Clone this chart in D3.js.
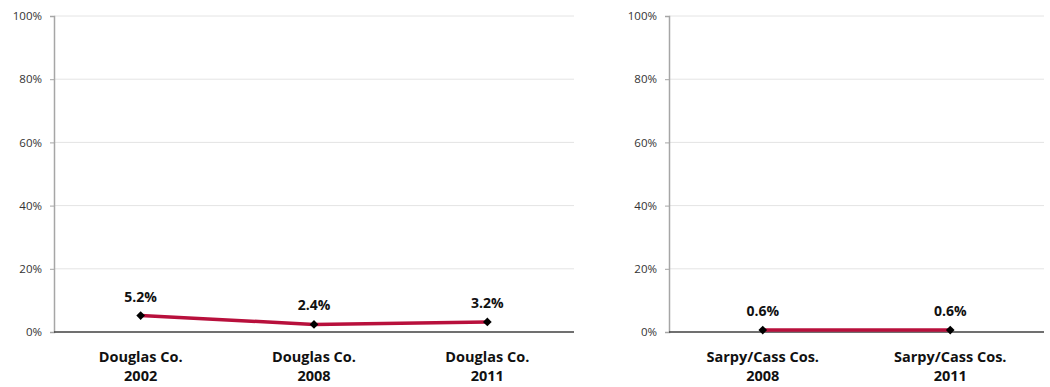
<!DOCTYPE html>
<html>
<head>
<meta charset="utf-8">
<script src="https://cdn.jsdelivr.net/npm/d3@7"></script>
<style>
  body { margin: 0; background: #fff; }
  text { font-family: "Open Sans", "Noto Sans", sans-serif; }
</style>
</head>
<body>
<div class="chart"></div>
<script>
// data
var douglasCats = [["Douglas Co.", "2002"], ["Douglas Co.", "2008"], ["Douglas Co.", "2011"]];
var douglasVals = [5.2, 2.4, 3.2];
var sarpyCats = [["Sarpy/Cass Cos.", "2008"], ["Sarpy/Cass Cos.", "2011"]];
var sarpyVals = [0.6, 0.6];
var yTicks = [0, 20, 40, 60, 80, 100];

var svgWidth = 1050;
var svgHeight = 387;

var svg = d3.select(".chart")
    .append("svg")
    .attr("width", svgWidth)
    .attr("height", svgHeight);

var yScale = d3.scaleLinear().domain([0, 100]).range([332, 16]);

function drawPanel(cats, vals, x0, x1) {
    var g = svg.append("g");
    var xScale = d3.scaleBand()
        .domain(cats.map(function(d, i) { return i; }))
        .range([x0, x1]);
    var cx = function(i) { return xScale(i) + xScale.bandwidth() / 2; };

    // gridlines
    g.selectAll(".grid")
        .data(yTicks.filter(function(t) { return t > 0; }))
        .enter()
        .append("line")
        .attr("x1", x0).attr("x2", x1)
        .attr("y1", function(d) { return yScale(d); })
        .attr("y2", function(d) { return yScale(d); })
        .attr("stroke", "#e4e4e4")
        .attr("stroke-width", 1);

    // y axis
    var leftAxis = d3.axisLeft(yScale)
        .tickValues(yTicks)
        .tickSize(4)
        .tickPadding(8)
        .tickFormat(function(d) { return d + "%"; });
    var ya = g.append("g")
        .attr("transform", "translate(" + x0 + ",0)")
        .call(leftAxis);
    ya.select(".domain").attr("stroke", "#a6a6a6").attr("stroke-width", 1.5);
    ya.selectAll(".tick line").attr("stroke", "#a6a6a6");
    ya.selectAll(".tick text")
        .attr("fill", "#333")
        .style("font-size", "11.5px")
        .style("font-family", "'Open Sans', sans-serif");

    // x axis baseline
    g.append("line")
        .attr("x1", x0).attr("x2", x1)
        .attr("y1", yScale(0)).attr("y2", yScale(0))
        .attr("stroke", "#404040")
        .attr("stroke-width", 1.5);

    // category labels
    cats.forEach(function(c, i) {
        var t = g.append("text")
            .attr("x", cx(i))
            .attr("y", 362)
            .attr("text-anchor", "middle")
            .style("font-size", "14.5px")
            .style("font-weight", "bold")
            .attr("fill", "#111");
        t.append("tspan").attr("x", cx(i)).attr("y", 362).text(c[0]);
        t.append("tspan").attr("x", cx(i)).attr("y", 381).text(c[1]);
    });

    // line
    var line = d3.line()
        .x(function(d, i) { return cx(i); })
        .y(function(d) { return yScale(d); });
    g.append("path")
        .datum(vals)
        .attr("d", line)
        .attr("fill", "none")
        .attr("stroke", "#b8103c")
        .attr("stroke-width", 3.5);

    // markers
    g.selectAll(".marker")
        .data(vals)
        .enter()
        .append("path")
        .attr("d", d3.symbol().type(d3.symbolDiamond2).size(48))
        .attr("transform", function(d, i) {
            return "translate(" + cx(i) + "," + yScale(d) + ")";
        })
        .attr("fill", "#000");

    // value labels
    g.selectAll(".val")
        .data(vals)
        .enter()
        .append("text")
        .attr("x", function(d, i) { return cx(i); })
        .attr("y", function(d) { return yScale(d) - 14; })
        .attr("text-anchor", "middle")
        .style("font-size", "14px")
        .style("font-weight", "bold")
        .attr("fill", "#111")
        .text(function(d) { return d.toFixed(1) + "%"; });
}

drawPanel(douglasCats, douglasVals, 54, 574);
drawPanel(sarpyCats, sarpyVals, 669, 1044);
</script>
</body>
</html>
